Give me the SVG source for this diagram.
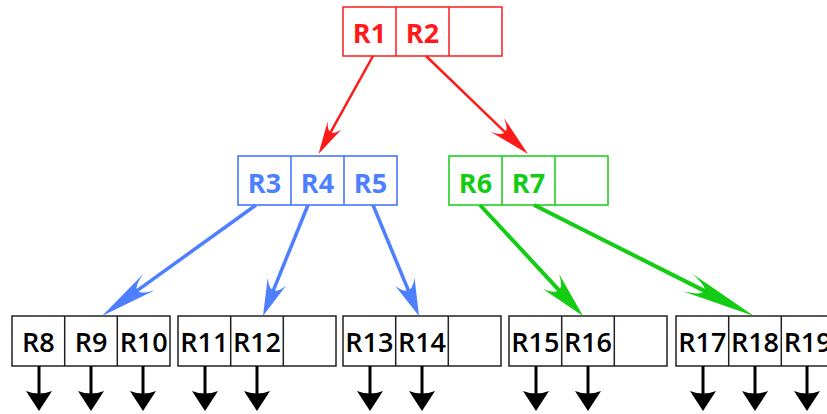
<svg xmlns="http://www.w3.org/2000/svg" xmlns:xlink="http://www.w3.org/1999/xlink" width="827" height="414" viewBox="0 0 827 414">
<style>
.box{fill:#fff;stroke-width:1.5}
.red{stroke:#ff1a1a}.blue{stroke:#3d6dff}.green{stroke:#14cc14}.blk{stroke:#222}
.t{font-family:"Open Sans","Noto Sans",sans-serif;font-size:27px;text-anchor:middle}
.tr{fill:#ff1a1a;font-weight:700}.tb{fill:#4d7fff;font-weight:700}.tg{fill:#14cc14;font-weight:700}.tk{fill:#000;font-weight:600}
.ln{fill:none;stroke-linecap:butt}
</style>
<defs>
<path id="hd" d="M0,0 L-1,-1 Q-0.5,0 -1,1 Z"/>
<marker id="ab" markerUnits="userSpaceOnUse" viewBox="0 -13 20 26" markerWidth="20" markerHeight="26" refX="9" refY="0" orient="auto">
<path d="M20,0 L0,-13 Q5,0 0,13 Z" fill="#000"/>
</marker>
</defs>
<g id="n-r1r2">
<rect class="box red" x="343" y="7" width="159" height="49"/>
<path class="red" d="M396,7V56M449,7V56" fill="none" stroke-width="1.5"/>
<text class="t tr" x="369.5" y="43">R1</text><text class="t tr" x="422.5" y="43">R2</text>
</g>
<g id="n-r3r5">
<rect class="box blue" x="238" y="156" width="159" height="49"/>
<path class="blue" d="M291,156V205M344,156V205" fill="none" stroke-width="1.5"/>
<text class="t tb" x="264.5" y="193">R3</text><text class="t tb" x="317.5" y="193">R4</text><text class="t tb" x="370.5" y="193">R5</text>
</g>
<g id="n-r6r7">
<rect class="box green" x="449" y="156" width="159" height="49"/>
<path class="green" d="M502,156V205M555,156V205" fill="none" stroke-width="1.5"/>
<text class="t tg" x="475.5" y="193">R6</text><text class="t tg" x="528.5" y="193">R7</text>
</g>
<g id="n-r8r10">
<rect class="box blk" x="12" y="316" width="158" height="50"/>
<path class="blk" d="M64.7,316V366M117.3,316V366" fill="none" stroke-width="1.5"/>
<text class="t tk" x="38.3" y="352">R8</text><text class="t tk" x="91" y="352">R9</text><text class="t tk" x="143.7" y="352">R10</text>
</g>
<g id="n-r11r12">
<rect class="box blk" x="178" y="316" width="158" height="50"/>
<path class="blk" d="M230.7,316V366M283.3,316V366" fill="none" stroke-width="1.5"/>
<text class="t tk" x="204.3" y="352">R11</text><text class="t tk" x="257" y="352">R12</text>
</g>
<g id="n-r13r14">
<rect class="box blk" x="343" y="316" width="158" height="50"/>
<path class="blk" d="M395.7,316V366M448.3,316V366" fill="none" stroke-width="1.5"/>
<text class="t tk" x="369.3" y="352">R13</text><text class="t tk" x="422" y="352">R14</text>
</g>
<g id="n-r15r16">
<rect class="box blk" x="509" y="316" width="158" height="50"/>
<path class="blk" d="M561.7,316V366M614.3,316V366" fill="none" stroke-width="1.5"/>
<text class="t tk" x="535.3" y="352">R15</text><text class="t tk" x="588" y="352">R16</text>
</g>
<g id="n-r17r19">
<rect class="box blk" x="676" y="316" width="158" height="50"/>
<path class="blk" d="M728.7,316V366M781.3,316V366" fill="none" stroke-width="1.5"/>
<text class="t tk" x="702.3" y="352">R17</text><text class="t tk" x="755" y="352">R18</text><text class="t tk" x="807.7" y="352">R19</text>
</g>
<g id="connectors">
<g fill="#ff1a1a">
<line class="ln" x1="373" y1="56" x2="328.2" y2="136.7" stroke="#ff1a1a" stroke-width="2.5"/>
<use xlink:href="#hd" transform="translate(318.5,154) rotate(119.33) scale(33,8)"/>
<line class="ln" x1="426" y1="56" x2="509.7" y2="136.6" stroke="#ff1a1a" stroke-width="2.5"/>
<use xlink:href="#hd" transform="translate(528,154) rotate(43.56) scale(42,9.5)"/>
</g>
<g fill="#4d7fff">
<line class="ln" x1="256" y1="205" x2="130.2" y2="295.6" stroke="#4d7fff" stroke-width="3.5"/>
<use xlink:href="#hd" transform="translate(102,316) rotate(144.21) scale(58,10)"/>
<line class="ln" x1="308" y1="205" x2="271.3" y2="295.4" stroke="#4d7fff" stroke-width="3.5"/>
<use xlink:href="#hd" transform="translate(263,316) rotate(112.07) scale(37,10)"/>
<line class="ln" x1="373" y1="205" x2="410.5" y2="295.5" stroke="#4d7fff" stroke-width="3.5"/>
<use xlink:href="#hd" transform="translate(419,316) rotate(67.49) scale(37,10.5)"/>
</g>
<g fill="#14cc14">
<line class="ln" x1="480" y1="205" x2="563.8" y2="295.3" stroke="#14cc14" stroke-width="4"/>
<use xlink:href="#hd" transform="translate(583,316) rotate(47.14) scale(47,11)"/>
<line class="ln" x1="534" y1="205" x2="714.4" y2="295.9" stroke="#14cc14" stroke-width="4"/>
<use xlink:href="#hd" transform="translate(754,316) rotate(26.75) scale(74,10)"/>
</g>
<g stroke="#000" stroke-width="3" marker-end="url(#ab)">
<line x1="39" y1="366" x2="39" y2="400"/>
<line x1="91" y1="366" x2="91" y2="400"/>
<line x1="143" y1="366" x2="143" y2="400"/>
<line x1="205" y1="366" x2="205" y2="400"/>
<line x1="257" y1="366" x2="257" y2="400"/>
<line x1="370" y1="366" x2="370" y2="400"/>
<line x1="422" y1="366" x2="422" y2="400"/>
<line x1="536" y1="366" x2="536" y2="400"/>
<line x1="588" y1="366" x2="588" y2="400"/>
<line x1="703" y1="366" x2="703" y2="400"/>
<line x1="755" y1="366" x2="755" y2="400"/>
<line x1="807" y1="366" x2="807" y2="400"/>
</g>
</g>
</svg>
